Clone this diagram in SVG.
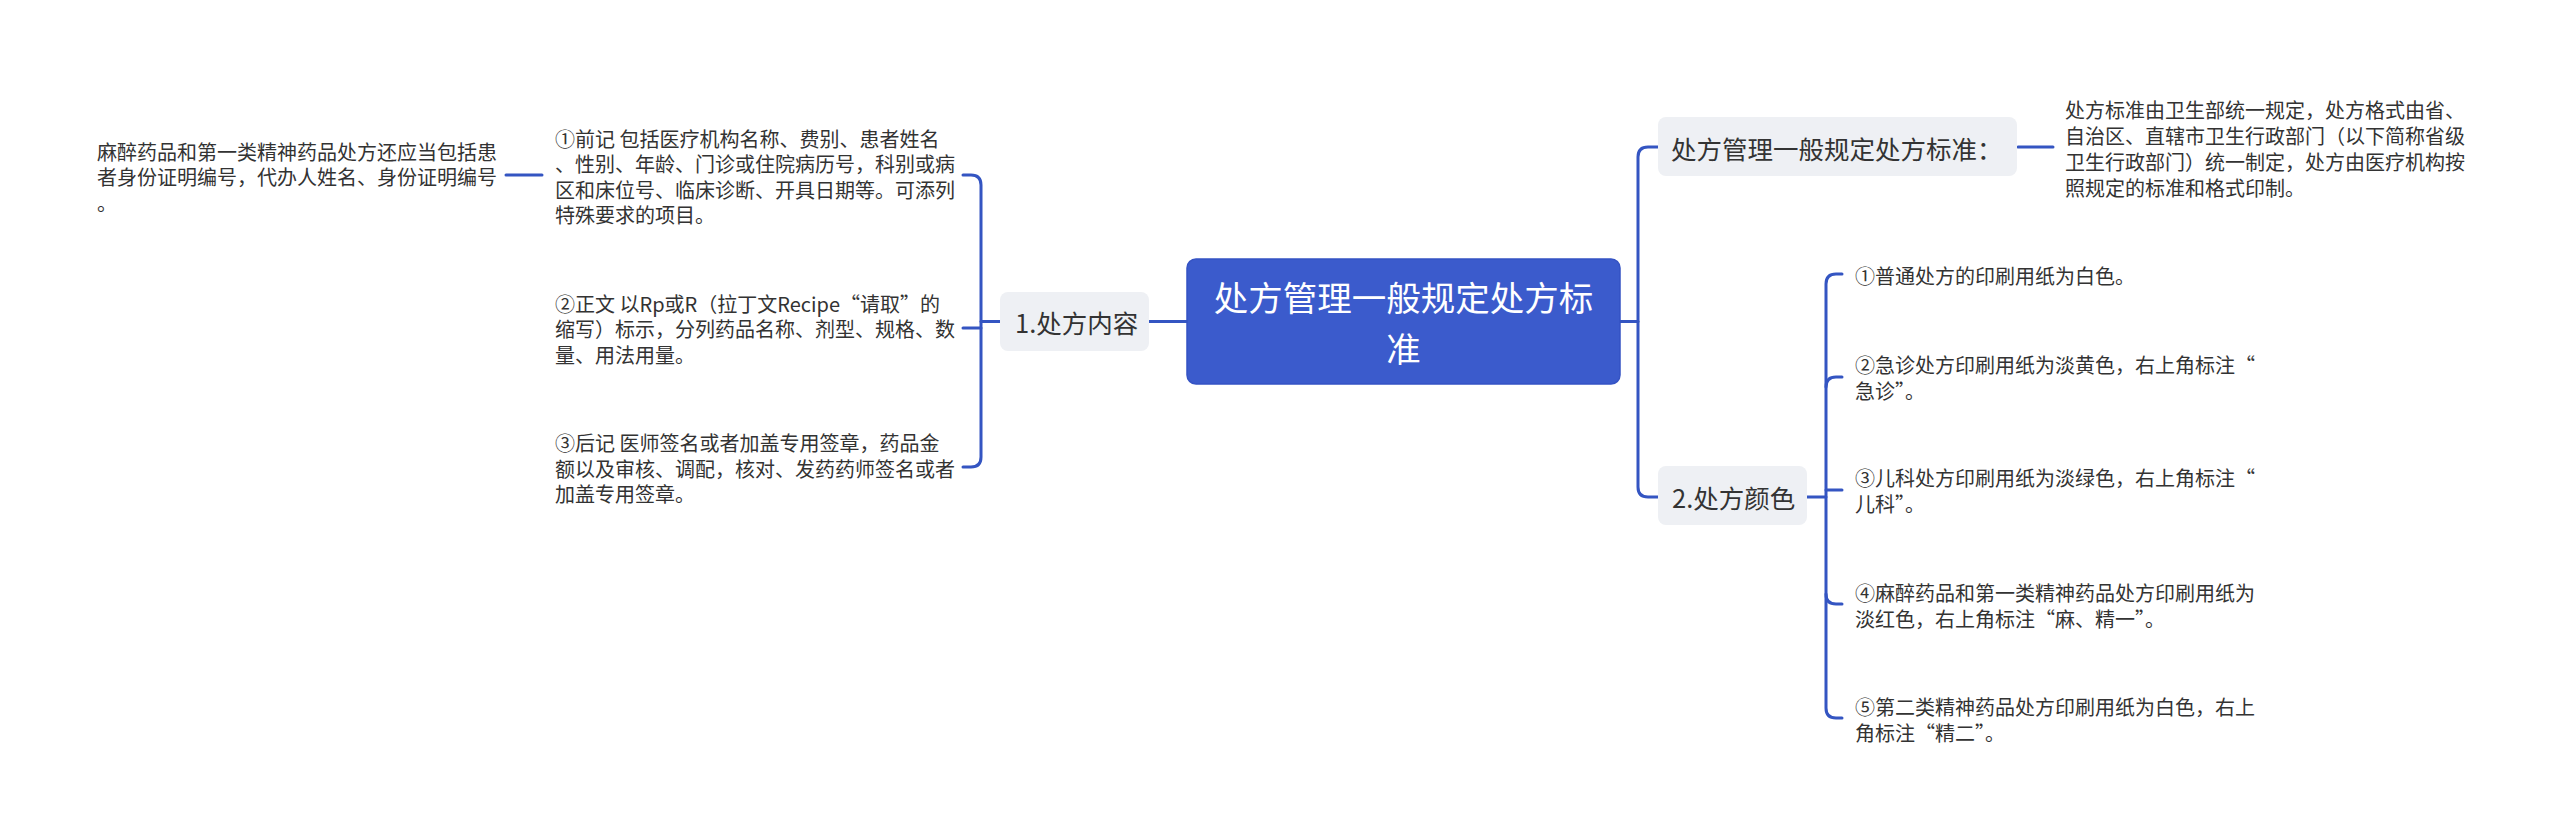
<svg xmlns="http://www.w3.org/2000/svg" width="2560" height="839" viewBox="0 0 2560 839">
<style>
text{font-family:"Noto Sans CJK SC","Noto Sans",sans-serif;dominant-baseline:central;fill:#333333}
.s{font-size:20px}
.n{font-size:25.5px}
.r{font-size:34.5px;fill:#ffffff;text-anchor:middle}
.nb{fill:#eef0f4}
.c{fill:none;stroke:#3455c2;stroke-width:3;stroke-linecap:round}
</style>
<rect width="2560" height="839" fill="#ffffff"/>
<g id="connectors">
<path class="c" d="M1187 321.5H1149"/>
<path class="c" d="M1000 321.5H981"/>
<path class="c" d="M963 175H971Q981 175 981 185V457Q981 467 971 467H963"/>
<path class="c" d="M963 328H981"/>
<path class="c" d="M542 175H506"/>
<path class="c" d="M1620 321.5H1638"/>
<path class="c" d="M1658 147H1648Q1638 147 1638 157V487Q1638 497 1648 497H1658"/>
<path class="c" d="M2018 147H2053"/>
<path class="c" d="M1807 497H1826"/>
<path class="c" d="M1842 274H1836Q1826 274 1826 284V708Q1826 718 1836 718H1842"/>
<path class="c" d="M1842 377H1836Q1826 377 1826 387"/>
<path class="c" d="M1842 490H1826"/>
<path class="c" d="M1842 604H1836Q1826 604 1826 594"/>
</g>
<g id="root">
<rect x="1187" y="259" width="433" height="125" rx="9" fill="#3b5bcc" stroke="#3553c4" stroke-width="1.5"/>
<text class="r" x="1403.5" y="296">处方管理一般规定处方标</text>
<text class="r" x="1403.5" y="347">准</text>
</g>
<g id="node-content">
<rect class="nb" x="1000" y="292" width="149" height="59" rx="8"/>
<text class="n" x="1015" y="321.5">1.处方内容</text>
</g>
<g id="node-c1">
<text class="s" x="555" y="138">①前记 包括医疗机构名称、费别、患者姓名</text>
<text class="s" x="555" y="163.5">、性别、年龄、门诊或住院病历号，科别或病</text>
<text class="s" x="555" y="189">区和床位号、临床诊断、开具日期等。可添列</text>
<text class="s" x="555" y="214.5">特殊要求的项目。</text>
</g>
<g id="node-c1a">
<text class="s" x="97" y="151">麻醉药品和第一类精神药品处方还应当包括患</text>
<text class="s" x="97" y="176.5">者身份证明编号，代办人姓名、身份证明编号</text>
<text class="s" x="97" y="202">。</text>
</g>
<g id="node-c2">
<text class="s" x="555" y="303">②正文 以Rp或R（拉丁文Recipe“请取”的</text>
<text class="s" x="555" y="328.5">缩写）标示，分列药品名称、剂型、规格、数</text>
<text class="s" x="555" y="354">量、用法用量。</text>
</g>
<g id="node-c3">
<text class="s" x="555" y="442.5">③后记 医师签名或者加盖专用签章，药品金</text>
<text class="s" x="555" y="468">额以及审核、调配，核对、发药药师签名或者</text>
<text class="s" x="555" y="493.5">加盖专用签章。</text>
</g>
<g id="node-standard">
<rect class="nb" x="1658" y="117" width="359" height="59" rx="8"/>
<text class="n" x="1671" y="147">处方管理一般规定处方标准：</text>
</g>
<g id="node-standard-text">
<text class="s" x="2065" y="109">处方标准由卫生部统一规定，处方格式由省、</text>
<text class="s" x="2065" y="135">自治区、直辖市卫生行政部门（以下简称省级</text>
<text class="s" x="2065" y="161">卫生行政部门）统一制定，处方由医疗机构按</text>
<text class="s" x="2065" y="187">照规定的标准和格式印制。</text>
</g>
<g id="node-color">
<rect class="nb" x="1658" y="466" width="149" height="59" rx="8"/>
<text class="n" x="1672" y="496">2.处方颜色</text>
</g>
<g id="node-color1">
<text class="s" x="1855" y="275">①普通处方的印刷用纸为白色。</text>
</g>
<g id="node-color2">
<text class="s" x="1855" y="364.5">②急诊处方印刷用纸为淡黄色，右上角标注“</text>
<text class="s" x="1855" y="390">急诊”。</text>
</g>
<g id="node-color3">
<text class="s" x="1855" y="477">③儿科处方印刷用纸为淡绿色，右上角标注“</text>
<text class="s" x="1855" y="503">儿科”。</text>
</g>
<g id="node-color4">
<text class="s" x="1855" y="592">④麻醉药品和第一类精神药品处方印刷用纸为</text>
<text class="s" x="1855" y="618">淡红色，右上角标注“麻、精一”。</text>
</g>
<g id="node-color5">
<text class="s" x="1855" y="706">⑤第二类精神药品处方印刷用纸为白色，右上</text>
<text class="s" x="1855" y="732">角标注“精二”。</text>
</g>
</svg>
